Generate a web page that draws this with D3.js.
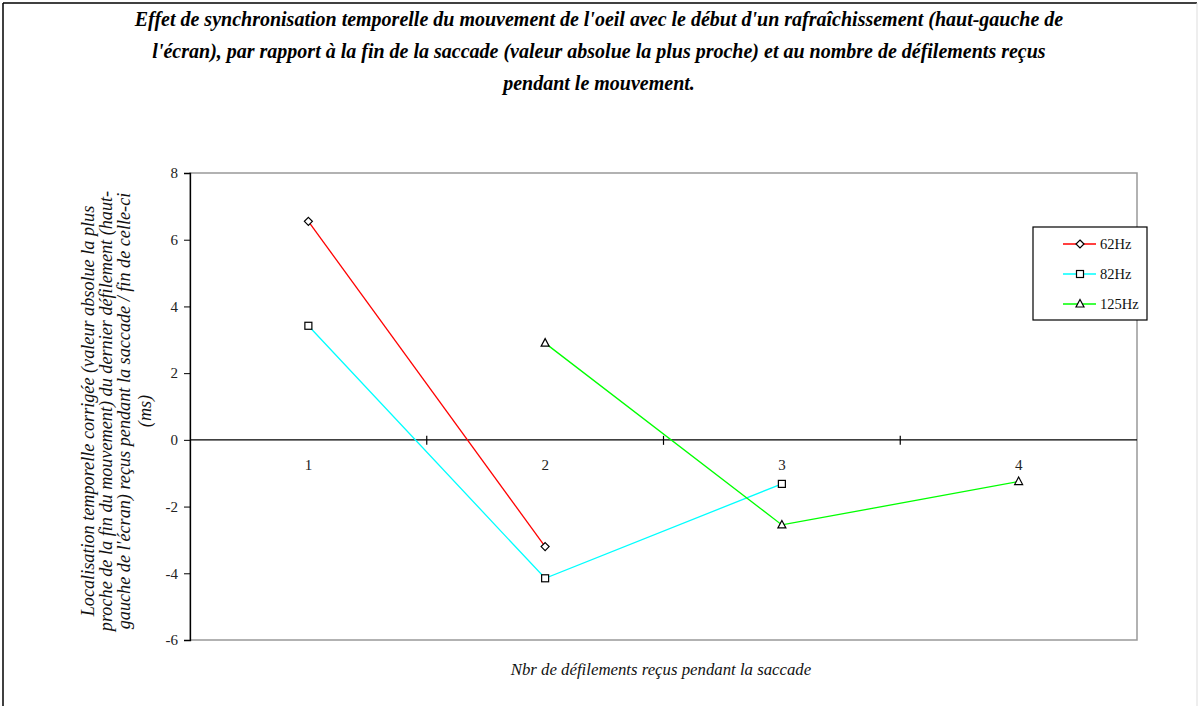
<!DOCTYPE html>
<html><head><meta charset="utf-8">
<script src="https://cdn.jsdelivr.net/npm/d3@7"></script>
<style>body{margin:0;background:#fff}svg{display:block}text{font-family:"Liberation Serif","Times New Roman",serif}</style>
</head><body><svg id="c" width="1198" height="706"></svg>
<script>
const categories = ["1","2","3","4"];
const yTicks = [-6,-4,-2,0,2,4,6,8];
const seriesNames = ["62Hz","82Hz","125Hz"];
const seriesColors = ["#ff0000","#00ffff","#00ff00"];
const seriesMarkers = ["diamond","square","triangle"];
const s62 = [6.55, -3.2, null, null];
const s82 = [3.42, -4.15, -1.32, null];
const s125 = [null, 2.9, -2.55, -1.25];
const titleLines = [
 "Effet de synchronisation temporelle du mouvement de l'oeil avec le début d'un rafraîchissement (haut-gauche de",
 "l'écran), par rapport à la fin de la saccade (valeur absolue la plus proche) et au nombre de défilements reçus",
 "pendant le mouvement."];
const yTitleLines = [
 "Localisation temporelle corrigée (valeur absolue la plus",
 "proche de la fin du mouvement) du dernier défilement (haut-",
 "gauche de l'écran) reçus pendant la saccade / fin de celle-ci",
 "(ms)"];
const xTitle = "Nbr de défilements reçus pendant la saccade";

const svg = d3.select("#c");
const L=190, R=1137, T=173, B=640;
const x = d3.scaleBand().domain(categories).range([L,R]);
const y = d3.scaleLinear().domain([-6,8]).range([B,T]);

// outer frame
svg.append("line").attr("x1",3).attr("y1",3).attr("x2",3).attr("y2",706).attr("stroke","#000").attr("stroke-width",1.5);
svg.append("line").attr("x1",3).attr("y1",3).attr("x2",1197).attr("y2",3).attr("stroke","#000").attr("stroke-width",1.5);
svg.append("line").attr("x1",1197).attr("y1",3).attr("x2",1197).attr("y2",706).attr("stroke","#ddd").attr("stroke-width",1);

// title
const tt = svg.append("text").attr("text-anchor","middle").attr("font-weight","bold").attr("font-style","italic").attr("font-size",20);
titleLines.forEach((l,i)=>tt.append("tspan").attr("x",599).attr("y",26+i*32).text(l));

// plot border
svg.append("rect").attr("x",L).attr("y",T).attr("width",R-L).attr("height",B-T).attr("fill","none").attr("stroke","#999").attr("stroke-width",1.5);

// y axis
const ya = svg.append("g").attr("transform",`translate(${L},0)`)
 .call(d3.axisLeft(y).tickValues(yTicks).tickSize(6).tickPadding(6).tickFormat(d=>String(d)));
ya.attr("font-family",null);
ya.select(".domain").attr("stroke","#000").attr("stroke-width",1.3);
ya.selectAll(".tick line").attr("stroke","#000");
ya.selectAll("text").attr("font-size",15).attr("fill","#222");

// x axis at 0
const xa = svg.append("g").attr("transform",`translate(0,${y(0)})`);
xa.append("line").attr("x1",L).attr("x2",R).attr("stroke","#000").attr("stroke-width",1.3);
const bounds = categories.map(c=>x(c)).concat([R]);
xa.selectAll(".tk").data(bounds.slice(1,-1)).enter().append("line")
 .attr("x1",d=>d).attr("x2",d=>d).attr("y1",-4).attr("y2",5).attr("stroke","#000").attr("stroke-width",1.2);
xa.selectAll(".lb").data(categories).enter().append("text")
 .attr("x",d=>x(d)+x.bandwidth()/2).attr("y",30).attr("text-anchor","middle").attr("font-size",15).attr("fill","#222").text(d=>d);

// y title
const yt = svg.append("text").attr("transform","translate(0,411) rotate(-90)").attr("text-anchor","middle").attr("font-style","italic").attr("font-size",18.2).attr("fill","#111");
const yx=[94,112,130,151];
yTitleLines.forEach((l,i)=>yt.append("tspan").attr("x",0).attr("y",yx[i]).text(l));

// x title
svg.append("text").attr("x",661).attr("y",675).attr("text-anchor","middle").attr("font-style","italic").attr("font-size",16.8).attr("fill","#111").text(xTitle);

// markers
function marker(g,type,cx,cy){
  if(type==="diamond") g.append("path").attr("d",`M${cx},${cy-4}L${cx+4},${cy}L${cx},${cy+4}L${cx-4},${cy}Z`);
  else if(type==="square") g.append("rect").attr("x",cx-3.5).attr("y",cy-3.5).attr("width",7).attr("height",7);
  else g.append("path").attr("d",`M${cx},${cy-4.5}L${cx+4},${cy+3}L${cx-4},${cy+3}Z`);
}
const allSeries=[s62,s82,s125];
const line = d3.line().defined(d=>d.v!==null).x(d=>x(d.c)+x.bandwidth()/2).y(d=>y(d.v));
allSeries.forEach((s,i)=>{
  const pts = s.map((v,j)=>({c:categories[j],v}));
  svg.append("path").datum(pts).attr("d",line).attr("fill","none").attr("stroke",seriesColors[i]).attr("stroke-width",1.3);
});
allSeries.forEach((s,i)=>{
  const g = svg.append("g").attr("fill","#fff").attr("stroke","#000").attr("stroke-width",1.2);
  s.forEach((v,j)=>{ if(v!==null) marker(g,seriesMarkers[i],x(categories[j])+x.bandwidth()/2,y(v)); });
});

// legend
const lg = svg.append("g");
lg.append("rect").attr("x",1033).attr("y",227).attr("width",114).attr("height",93).attr("fill","#fff").attr("stroke","#000").attr("stroke-width",1.2);
seriesNames.forEach((n,i)=>{
  const yy=244+i*30;
  lg.append("line").attr("x1",1063).attr("x2",1096).attr("y1",yy).attr("y2",yy).attr("stroke",seriesColors[i]).attr("stroke-width",1.3);
  const g=lg.append("g").attr("fill","#fff").attr("stroke","#000").attr("stroke-width",1.2);
  marker(g,seriesMarkers[i],1080,yy);
  lg.append("text").attr("x",1100).attr("y",yy+5).attr("font-size",14.5).attr("fill","#111").text(n);
});
</script></body></html>
